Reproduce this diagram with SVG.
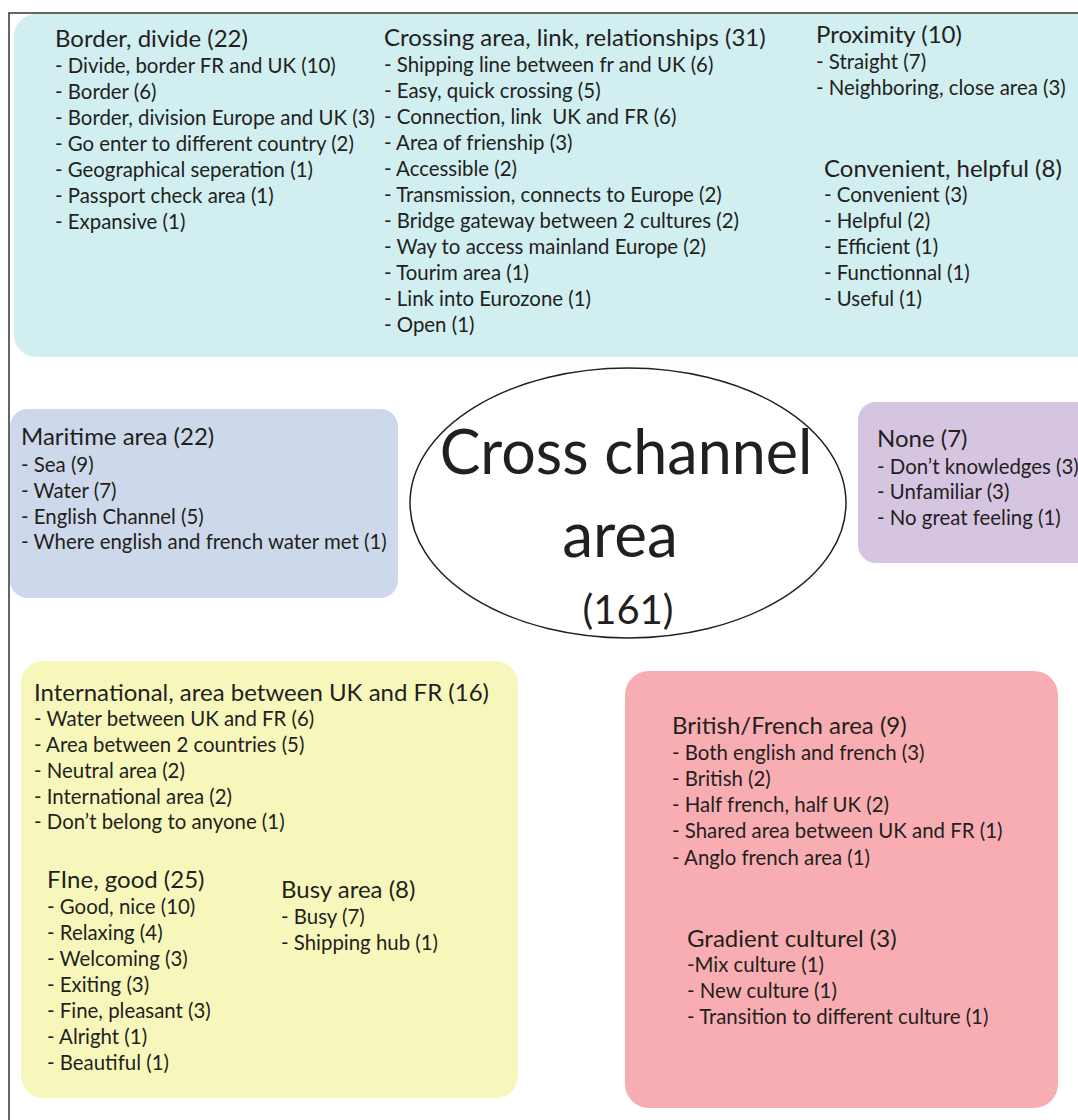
<svg xmlns="http://www.w3.org/2000/svg" width="1078" height="1120" viewBox="0 0 1078 1120">
<style>
text{font-family:Lato,"Noto Sans","Liberation Sans",sans-serif;fill:#231f20}
.h{font-size:24px}
.i{font-size:20.4px}
.frame{fill:none;stroke:#333;stroke-width:1.5}
</style>
<rect width="1078" height="1120" fill="#fff"/>
<path class="frame" d="M9 1120 V13 H1078"/>
<g id="connectors"/>
<g id="crossing-themes">
<rect x="14" y="14" width="1090" height="343" rx="22" fill="#d1eef0"/>
<text class="h" x="55" y="47">Border, divide (22)</text>
<text class="i" x="55" y="73">- Divide, border FR and UK (10)</text>
<text class="i" x="55" y="99">- Border (6)</text>
<text class="i" x="55" y="125">- Border, division Europe and UK (3)</text>
<text class="i" x="55" y="151">- Go enter to different country (2)</text>
<text class="i" x="55" y="177">- Geographical seperation (1)</text>
<text class="i" x="55" y="203">- Passport check area (1)</text>
<text class="i" x="55" y="229">- Expansive (1)</text>
<text class="h" x="384" y="46">Crossing area, link, relationships (31)</text>
<text class="i" x="384" y="72">- Shipping line between fr and UK (6)</text>
<text class="i" x="384" y="98">- Easy, quick crossing (5)</text>
<text class="i" x="384" y="124" xml:space="preserve">- Connection, link  UK and FR (6)</text>
<text class="i" x="384" y="150">- Area of frienship (3)</text>
<text class="i" x="384" y="176">- Accessible (2)</text>
<text class="i" x="384" y="202">- Transmission, connects to Europe (2)</text>
<text class="i" x="384" y="228">- Bridge gateway between 2 cultures (2)</text>
<text class="i" x="384" y="254">- Way to access mainland Europe (2)</text>
<text class="i" x="384" y="280">- Tourim area (1)</text>
<text class="i" x="384" y="306">- Link into Eurozone (1)</text>
<text class="i" x="384" y="332">- Open (1)</text>
<text class="h" x="816" y="43">Proximity (10)</text>
<text class="i" x="816" y="69">- Straight (7)</text>
<text class="i" x="816" y="95">- Neighboring, close area (3)</text>
<text class="h" x="824" y="177">Convenient, helpful (8)</text>
<text class="i" x="824" y="202">- Convenient (3)</text>
<text class="i" x="824" y="228">- Helpful (2)</text>
<text class="i" x="824" y="254">- Efficient (1)</text>
<text class="i" x="824" y="280">- Functionnal (1)</text>
<text class="i" x="824" y="306">- Useful (1)</text>
</g>
<g id="maritime">
<rect x="10" y="409" width="388" height="189" rx="18" fill="#cdd8ea"/>
<text class="h" x="21" y="445">Maritime area (22)</text>
<text class="i" x="21" y="472">- Sea (9)</text>
<text class="i" x="21" y="498">- Water (7)</text>
<text class="i" x="21" y="524">- English Channel (5)</text>
<text class="i" x="21" y="549">- Where english and french water met (1)</text>
</g>
<g id="center">
<ellipse cx="628" cy="503" rx="218" ry="135" fill="#fff" stroke="#231f20" stroke-width="1.5"/>
<text x="626" y="474" text-anchor="middle" font-size="61">Cross channel</text>
<text x="620" y="557" text-anchor="middle" font-size="62">area</text>
<text x="628" y="624" text-anchor="middle" font-size="40">(161)</text>
</g>
<g id="none">
<rect x="858" y="402" width="240" height="161" rx="18" fill="#d5c5e0"/>
<text class="h" x="877" y="447">None (7)</text>
<text class="i" x="877" y="474">- Don’t knowledges (3)</text>
<text class="i" x="877" y="499">- Unfamiliar (3)</text>
<text class="i" x="877" y="525">- No great feeling (1)</text>
</g>
<g id="international">
<rect x="21" y="661" width="497" height="437" rx="22" fill="#f7f7bb"/>
<text class="h" x="34" y="701" font-size="25">International, area between UK and FR (16)</text>
<text class="i" x="34" y="726">- Water between UK and FR (6)</text>
<text class="i" x="34" y="752">- Area between 2 countries (5)</text>
<text class="i" x="34" y="778">- Neutral area (2)</text>
<text class="i" x="34" y="804">- International area (2)</text>
<text class="i" x="34" y="829">- Don’t belong to anyone (1)</text>
<text class="h" x="47" y="888">FIne, good (25)</text>
<text class="i" x="47" y="914">- Good, nice (10)</text>
<text class="i" x="47" y="940">- Relaxing (4)</text>
<text class="i" x="47" y="966">- Welcoming (3)</text>
<text class="i" x="47" y="992">- Exiting (3)</text>
<text class="i" x="47" y="1018">- Fine, pleasant (3)</text>
<text class="i" x="47" y="1044">- Alright (1)</text>
<text class="i" x="47" y="1070">- Beautiful (1)</text>
<text class="h" x="281" y="898">Busy area (8)</text>
<text class="i" x="281" y="924">- Busy (7)</text>
<text class="i" x="281" y="950">- Shipping hub (1)</text>
</g>
<g id="british-french">
<rect x="625" y="671" width="433" height="437" rx="24" fill="#f8adb2"/>
<text class="h" x="672" y="734">British/French area (9)</text>
<text class="i" x="672" y="760">- Both english and french (3)</text>
<text class="i" x="672" y="786">- British (2)</text>
<text class="i" x="672" y="812">- Half french, half UK (2)</text>
<text class="i" x="672" y="838">- Shared area between UK and FR (1)</text>
<text class="i" x="672" y="865">- Anglo french area (1)</text>
<text class="h" x="687" y="947">Gradient culturel (3)</text>
<text class="i" x="687" y="972">-Mix culture (1)</text>
<text class="i" x="687" y="998">- New culture (1)</text>
<text class="i" x="687" y="1024">- Transition to different culture (1)</text>
</g>
</svg>
